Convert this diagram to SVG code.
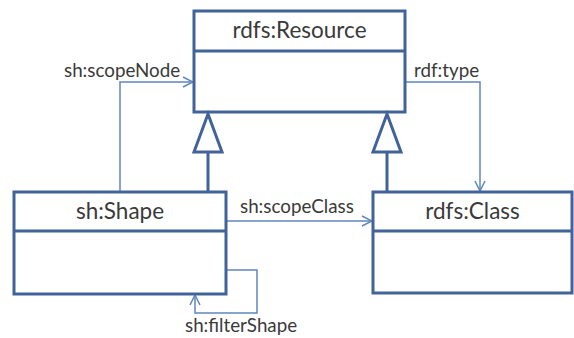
<svg xmlns="http://www.w3.org/2000/svg" width="574" height="338" viewBox="0 0 574 338">
<defs>
<style>
.box{fill:#fff;stroke:#41639a;stroke-width:3}
.div{stroke:#41639a;stroke-width:3}
.gen{fill:none;stroke:#41639a;stroke-width:3}
.tri{fill:#fff;stroke:#41639a;stroke-width:3;stroke-linejoin:miter}
.con{fill:none;stroke:#5f86bd;stroke-width:1.5}
.title{font-family:Lato,"Open Sans",sans-serif;font-size:22.5px;fill:#3a3a3a;text-anchor:middle}
.lbl{font-family:Lato,"Open Sans",sans-serif;font-size:18.8px;fill:#3a3a3a}
</style>
<marker id="open" viewBox="0 0 12 12" refX="11" refY="6" markerWidth="12" markerHeight="12" markerUnits="userSpaceOnUse" orient="auto">
<path d="M1,1 L11,6 L1,11" fill="none" stroke="#5f86bd" stroke-width="1.5"/>
</marker>
</defs>
<rect width="574" height="338" fill="#fff"/>
<g id="connectors">
<path class="gen" d="M208,152 V192"/>
<path class="gen" d="M387,152 V192"/>
<path class="con" d="M120,192 V82 H193" marker-end="url(#open)"/>
<path class="con" d="M406,82 H480 V191" marker-end="url(#open)"/>
<path class="con" d="M227,221 H372" marker-end="url(#open)"/>
<path class="con" d="M227,270 H257 V313 H195 V295" marker-end="url(#open)"/>
<text class="lbl" x="64" y="77">sh:scopeNode</text>
<text class="lbl" x="414" y="77">rdf:type</text>
<text class="lbl" x="240" y="213">sh:scopeClass</text>
<text class="lbl" x="185" y="332">sh:filterShape</text>
</g>
<g id="rdfs-Resource">
<rect class="box" x="194" y="11" width="211" height="101"/>
<line class="div" x1="194" y1="51" x2="405" y2="51"/>
<text class="title" x="299.5" y="38">rdfs:Resource</text>
</g>
<g id="sh-Shape">
<rect class="box" x="14" y="192" width="212" height="102"/>
<line class="div" x1="14" y1="231" x2="226" y2="231"/>
<text class="title" x="120" y="219">sh:Shape</text>
</g>
<g id="rdfs-Class">
<rect class="box" x="373" y="192" width="199" height="101"/>
<line class="div" x1="373" y1="231" x2="572" y2="231"/>
<text class="title" x="472.5" y="219">rdfs:Class</text>
</g>
<g id="generalization-arrows">
<path class="tri" d="M208,114 L222,152 L194,152 Z"/>
<path class="tri" d="M387,114 L401,152 L373,152 Z"/>
</g>
</svg>
